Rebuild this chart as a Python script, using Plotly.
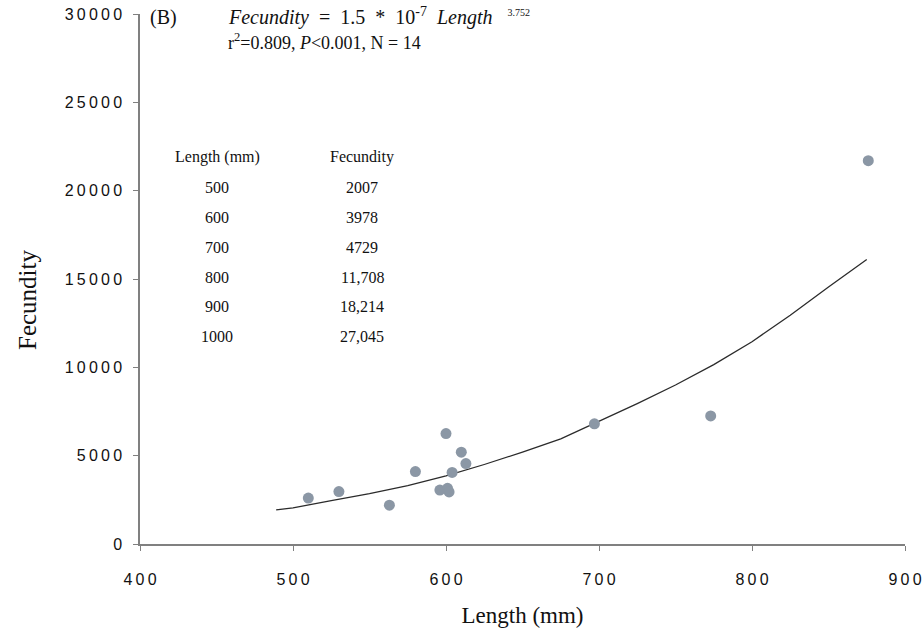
import plotly.graph_objects as go

length_mm = [510, 530, 563, 580, 596, 601, 602, 600, 604, 610, 613, 697, 773, 876]
fecundity = [2600, 2970, 2200, 4100, 3050, 3150, 2950, 6250, 4050, 5200, 4550, 6800, 7250, 21700]

# Fitted curve
curve_len = [489, 500, 525, 550, 575, 600, 625, 650, 675, 700, 725, 750, 775, 800, 825, 850, 875]
curve_fec = [1930, 2050, 2450, 2850, 3300, 3850, 4500, 5200, 5950, 6950, 7950, 9000, 10150, 11450, 12950, 14550, 16100]

# Inset table
table_len = ["500", "600", "700", "800", "900", "1000"]
table_fec = ["2007", "3978", "4729", "11,708", "18,214", "27,045"]

x_ticks = [400, 500, 600, 700, 800, 900]
y_ticks = [0, 5000, 10000, 15000, 20000, 25000, 30000]

serif = "Liberation Serif, Times New Roman, serif"
sans = "Liberation Sans, Arial, sans-serif"
TS = "\u2009"  # thin space to mimic the letter-spaced tick labels


def spaced(s):
    return TS.join(list(s))


fig = go.Figure()
fig.add_trace(go.Scatter(x=curve_len, y=curve_fec, mode="lines",
                         line=dict(color="#2b2b2b", width=1.3), showlegend=False))
fig.add_trace(go.Scatter(x=length_mm, y=fecundity, mode="markers",
                         marker=dict(color="#8b97a5", size=11, line=dict(width=0)),
                         showlegend=False))

W, H = 922, 630
L, R, T, B = 140, 17, 14, 86
pw, ph = W - L - R, H - T - B


def px(x):
    return (x - L) / pw


def py(y):
    return (H - B - y) / ph


ann = []
ann.append(dict(text="(B)", x=px(148), y=py(17), xanchor="left", yanchor="middle",
                font=dict(family=serif, size=20, color="#111")))
ann.append(dict(text="<i>Fecundity</i>  =  1.5  *  10<sup>-7</sup>  <i>Length</i>   <sup><span style='font-size:10px'>3.752</span></sup>",
                x=px(226), y=py(16), xanchor="left", yanchor="middle",
                font=dict(family=serif, size=20, color="#111")))
ann.append(dict(text="r<sup>2</sup>=0.809, <i>P</i>&lt;0.001, N = 14",
                x=px(226), y=py(42), xanchor="left", yanchor="middle",
                font=dict(family=serif, size=18, color="#111")))
ann.append(dict(text="Length (mm)", x=px(217), y=py(157), xanchor="center", yanchor="middle",
                font=dict(family=serif, size=16, color="#111")))
ann.append(dict(text="Fecundity", x=px(362), y=py(157), xanchor="center", yanchor="middle",
                font=dict(family=serif, size=16, color="#111")))
row_y = [187, 217, 247, 277, 306, 336]
for i, (a, b) in enumerate(zip(table_len, table_fec)):
    ann.append(dict(text=a, x=px(217), y=py(row_y[i]), xanchor="center", yanchor="middle",
                    font=dict(family=serif, size=16, color="#111")))
    ann.append(dict(text=b, x=px(362), y=py(row_y[i]), xanchor="center", yanchor="middle",
                    font=dict(family=serif, size=16, color="#111")))
# y-axis title
ann.append(dict(text="Fecundity", x=px(27), y=py(300), xanchor="center", yanchor="middle",
                textangle=-90, font=dict(family=serif, size=25, color="#111")))
for a in ann:
    a.update(xref="paper", yref="paper", showarrow=False)

fig.update_layout(
    width=W, height=H,
    margin=dict(l=L, r=R, t=T, b=B, autoexpand=False),
    plot_bgcolor="white", paper_bgcolor="white",
    annotations=ann,
    xaxis=dict(range=[400, 900], tickvals=x_ticks, ticktext=[spaced(str(v)) for v in x_ticks],
               showgrid=False, zeroline=False, showline=True, linecolor="#808080", linewidth=1.5,
               ticks="outside", ticklen=5, tickcolor="#808080", ticklabelstandoff=15,
               ticklabeloverflow="allow", automargin=False,
               tickfont=dict(family=sans, size=16, color="#111"),
               title=dict(text="Length (mm)", font=dict(family=serif, size=23, color="#111"), standoff=20)),
    yaxis=dict(range=[0, 30000], tickvals=y_ticks, ticktext=[spaced(str(v)) for v in y_ticks],
               showgrid=False, zeroline=False, showline=True, linecolor="#808080", linewidth=1.5,
               ticks="outside", ticklen=5, tickcolor="#808080", ticklabelstandoff=8,
               ticklabeloverflow="allow", automargin=False,
               tickfont=dict(family=sans, size=16, color="#111")),
)

fig.write_html("out.html")
